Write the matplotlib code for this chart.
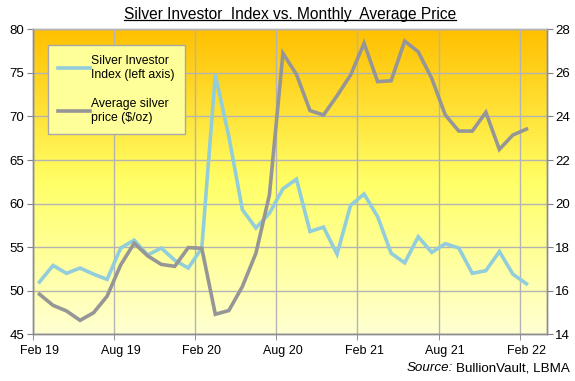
import numpy as np
import matplotlib.pyplot as plt
from matplotlib.colors import LinearSegmentedColormap
from matplotlib.lines import Line2D

plt.rcParams['font.family'] = ['Liberation Sans', 'DejaVu Sans']

# monthly data Feb 2019 .. Feb 2022
tick_labels = ['Feb 19', 'Aug 19', 'Feb 20', 'Aug 20', 'Feb 21', 'Aug 21', 'Feb 22']

investor_index = [51.0, 52.9, 52.0, 52.6, 51.9, 51.3, 54.9, 55.8, 54.1, 54.9,
                  53.5, 52.6, 54.9, 74.8, 67.7, 59.3, 57.2, 58.9, 61.7, 62.8,
                  56.8, 57.3, 54.2, 59.8, 61.1, 58.5, 54.3, 53.2, 56.2, 54.4,
                  55.4, 54.9, 52.0, 52.3, 54.5, 51.9, 50.8]

silver_price = [15.84, 15.33, 15.07, 14.64, 14.99, 15.75, 17.18, 18.18, 17.60, 17.21,
                17.12, 17.98, 17.95, 14.92, 15.09, 16.19, 17.72, 20.40, 26.90, 25.93,
                24.27, 24.07, 24.95, 25.90, 27.36, 25.60, 25.64, 27.46, 26.97, 25.75,
                24.07, 23.33, 23.33, 24.19, 22.49, 23.15, 23.42]

x = np.arange(len(investor_index))

fig = plt.figure(figsize=(5.75, 3.81), dpi=100)
ax = fig.add_axes([0.0569, 0.1226, 0.8939, 0.8004])
ax2 = ax.twinx()

# background gradient, orange at top to pale yellow at bottom
cmap = LinearSegmentedColormap.from_list(
    'bg', [(0.0, '#FFFFD2'), (0.5, '#FFFF66'), (1.0, '#FFC000')])
grad = np.linspace(0, 1, 256).reshape(-1, 1)
ax.imshow(grad, aspect='auto', cmap=cmap, origin='lower',
          extent=[0, 1, 0, 1], transform=ax.transAxes, zorder=0)

ax.set_xlim(-0.5, 37.5)
ax.set_ylim(45, 80)
ax2.set_ylim(14, 28)

ax.set_xticks(np.arange(0, 37, 6))
ax.set_xticklabels(tick_labels)
ax.set_xticks(np.arange(-0.5, 38, 6), minor=True)
ax.tick_params(axis='x', which='major', length=0, pad=8, labelsize=9)
ax.tick_params(axis='x', which='minor', length=4, color='#808080')
ax.set_yticks(np.arange(45, 81, 5))
ax.tick_params(axis='y', length=4, color='#808080', labelsize=9.5, pad=2)
ax2.set_yticks(np.arange(14, 29, 2))
ax2.tick_params(axis='y', length=4, color='#808080', labelsize=9.5, pad=2)

ax.grid(True, which='minor', axis='x', color='#B4B4B4', lw=1)
ax.grid(True, which='major', axis='y', color='#B4B4B4', lw=1)
ax.grid(False, which='major', axis='x')

for a in (ax, ax2):
    a.patch.set_visible(False)
    for s in a.spines.values():
        s.set_color('#8C8C8C')
        s.set_linewidth(1)
    a.spines['top'].set_color('#B4B4B4')

l1, = ax.plot(x, investor_index, color='#92CDDC', lw=2.6, solid_joinstyle='miter', zorder=3)
l2, = ax2.plot(x, silver_price, color='#969696', lw=2.6, solid_joinstyle='miter', zorder=3)

leg = ax2.legend([l1, l2], ['Silver Investor\nIndex (left axis)', 'Average silver\nprice ($/oz)'],
                 loc='upper left', bbox_to_anchor=(0.029, 0.95), borderaxespad=0,
                 fontsize=8.8, frameon=True, fancybox=False, framealpha=1,
                 handlelength=2.6, handletextpad=0.1, labelspacing=1.4, borderpad=0.85)
leg.get_frame().set_facecolor('#FFFF99')
leg.get_frame().set_edgecolor('#A8A8A8')

title = fig.text(0.504, 0.962, 'Silver Investor  Index vs. Monthly  Average Price',
                 ha='center', va='center', fontsize=11.2)

src = fig.text(0.99, 0.025, 'BullionVault, LBMA', ha='right', va='baseline', fontsize=9.6)

fig.canvas.draw()
r = fig.canvas.get_renderer()
inv = fig.transFigure.inverted()

# underline the title
bb = title.get_window_extent(r)
(x0, y0), (x1, y1) = inv.transform([(bb.x0, bb.y0), (bb.x1, bb.y1)])
fig.add_artist(Line2D([x0, x1], [y0 + 0.004, y0 + 0.004], color='black', lw=0.9,
                      transform=fig.transFigure))

# italic "Source:" before the source text
bb = src.get_window_extent(r)
sx = inv.transform((bb.x0, bb.y0))[0]
fig.text(sx - 0.005, 0.025, 'Source:', ha='right', va='baseline', fontsize=9.6, style='italic')

fig.savefig('out.png', dpi=100)
